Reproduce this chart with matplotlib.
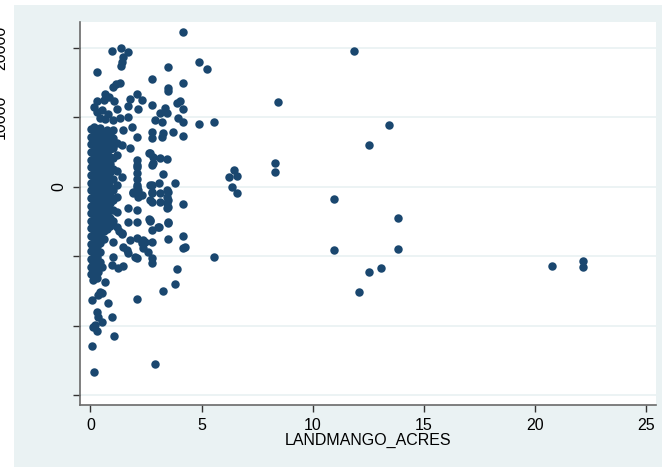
import matplotlib
matplotlib.use("Agg")
import matplotlib.pyplot as plt
from matplotlib.patches import Rectangle

plt.rcParams['font.family'] = ['Liberation Sans', 'DejaVu Sans']

# scattered observations (acres, value)
land_acres = [
    4.18, 0.98, 1.39, 1.70, 1.45, 1.41, 1.36, 0.28, 4.88, 5.26, 3.47, 2.78, 4.18, 3.47, 3.47,
    1.15, 1.33, 1.02, 0.66, 0.28, 0.61, 1.07, 1.78, 2.08, 2.31, 1.70, 2.15, 2.76, 3.88, 4.03,
    4.18, 3.35, 3.13, 3.46, 2.90, 3.21, 3.95, 4.18, 4.88, 5.57, 8.42, 0.28, 0.43, 1.03, 1.33,
    1.70, 1.88, 1.48, 1.03, 2.08, 2.76, 2.76, 3.21, 3.28, 3.70, 4.18, 2.65, 2.83, 3.13, 3.46,
    2.76, 2.08, 2.08, 1.78, 1.41, 2.08, 2.08, 3.28, 3.08, 3.80, 2.76, 2.08, 4.18, 6.46, 6.25,
    6.58, 6.35, 6.58, 8.30, 8.30, 1.41, 1.93, 2.15, 2.76, 2.76, 3.13, 3.46, 3.46, 3.46, 3.46,
    2.65, 2.08, 1.70, 2.08, 1.70, 2.68, 3.08, 2.76, 3.47, 4.18, 3.47, 4.18, 4.25, 1.41, 1.03,
    1.78, 2.08, 2.31, 2.46, 2.76, 1.48, 1.63, 1.70, 2.08, 2.38, 2.60, 2.76, 2.76, 1.03, 0.96,
    1.25, 1.48, 5.57, 3.88, 3.80, 3.28, 2.08, 0.66, 0.13, 0.28, 0.43, 0.36, 0.51, 0.06, 0.80,
    0.28, 0.36, 0.51, 0.21, 0.13, 0.98, 0.28, 1.07, 0.09, 2.89, 0.18, 0.13, 0.43, 0.21, 0.36,
    0.13, 0.51, 0.28, 0.43, 10.95, 13.84, 10.95, 13.84, 12.54, 13.05, 12.06, 11.85, 13.44, 12.54,
    20.74, 22.14, 22.14, 2.68, 2.80, 2.08, 2.68, 2.08, 2.15, 1.93, 2.31, 2.76, 3.13, 2.68,
    3.50, 3.50, 3.50, 2.68, 3.05, 3.50, 1.28, 1.41, 2.31, 2.38, 2.01, 0.15, 0.50, 0.80, 1.20,
    0.66, 0.85,
]
value_diff = [
    22260, 19570, 19915, 19380, 18620, 17990, 17325, 16505, 17990, 16890, 17180, 15500, 14965, 14160, 13770,
    14780, 14880, 14350, 13340, 12380, 12480, 12290, 12665, 13340, 12480, 11610, 11140, 11760, 12000, 12380,
    11140, 11280, 10560, 10650, 9600, 9355, 9840, 9355, 8980, 9355, 12230, 10790, 9885, 9600, 9840,
    10070, 8630, 8160, 8160, 7110, 7915, 6960, 7195, 7685, 7915, 7295, 4890, 4315, 4085, 3940,
    3120, 3840, 3120, 5525, 6000, 1930, 1065, 1830, 575, 490, 245, 0, -2490, 2400, 1440,
    1540, -90, -950, 3450, 2070, 1440, -950, -1440, -950, -2160, -2160, -475, -1440, -2300, -3110,
    -4690, -3350, -3110, -5035, -5035, -4890, -5755, -6230, -5180, -7095, -7525, -8865, -8635, -6805, -7915,
    -7670, -7425, -7815, -7915, -7915, -8635, -9110, -9585, -10305, -8865, -9355, -10305, -10935, -10075, -11270,
    -11740, -11410, -10160, -11890, -14000, -14965, -16160, -13760, -13425, -13180, -15110, -15585, -15340, -16305, -16690,
    -17990, -18705, -19425, -19900, -20145, -18795, -20720, -21440, -22925, -25510, -26620, -11020, -10790, -11740, -12230,
    -12460, -11510, -10075, -9355, -1770, -4550, -9110, -8965, -12230, -11740, -15110, 19570, 8880, 6000,
    -11370, -10650, -11510, 4800, 3370, 245, 245, 2880, -475, -720, -1195, -720, -950, -1910,
    -720, -1910, -2880, -4790, -5755, -5120, -6300, -6705, -8145, -7670, -10160, 11500, 11000, 10500, 11200,
    9700, 12900,
]

# the crowded block of small plots (under about 1.2 acres)
small_acres = (
    [0.04] * 20 + [0.17] * 18 + [0.31] * 17 + [0.45] * 16 + [0.59] * 15
    + [0.73] * 14 + [0.88] * 13 + [1.03] * 9 + [1.18] * 7
)
small_value = [
    8300, 7200, 6100, 5000, 3900, 2800, 1700, 600, -500, -1600, -2700, -3800, -4900, -6000, -7100, -8200, -9300, -10400, -11500, -12600,
    8600, 7500, 6400, 5300, 4200, 3100, 2000, 900, -200, -1300, -2400, -3500, -4600, -5700, -6800, -7900, -9000, -10100,
    8000, 6900, 5800, 4700, 3600, 2500, 1400, 300, -800, -1900, -3000, -4100, -5200, -6300, -7400, -8500, -9600,
    8400, 7300, 6200, 5100, 4000, 2900, 1800, 700, -400, -1500, -2600, -3700, -4800, -5900, -7000, -8100,
    7900, 6800, 5700, 4600, 3500, 2400, 1300, 200, -900, -2000, -3100, -4200, -5300, -6400, -7500,
    8200, 7100, 6000, 4900, 3800, 2700, 1600, 500, -600, -1700, -2800, -3900, -5000, -6100,
    7600, 6500, 5400, 4300, 3200, 2100, 1000, -100, -1200, -2300, -3400, -4500, -5600,
    7000, 5600, 4100, 2600, 1100, -400, -1900, -3400, -4900,
    6300, 4500, 2200, 300, -1500, -3600, -5800,
]

x_ticks = [0, 5, 10, 15, 20, 25]
y_ticks = [-30000, -20000, -10000, 0, 10000, 20000]
y_tick_labels = ['', '', '', '0', '10000', '20000']

navy = '#1a476f'
panel = '#eaf2f3'

fig = plt.figure(figsize=(6.62, 4.67), dpi=100, facecolor='white')
fig.patches.append(Rectangle((14 / 662, 0), 1, 462 / 467, transform=fig.transFigure,
                             facecolor=panel, edgecolor='none', zorder=-10))
ax = fig.add_axes([80 / 662, 62 / 467, 576 / 662, 383 / 467])
ax.set_facecolor('white')

ax.scatter(small_acres, small_value, s=37, color=navy, linewidths=0, zorder=3)
ax.scatter(land_acres, value_diff, s=37, color=navy, linewidths=0, zorder=3)

ax.set_xlim(-0.47, 25.43)
ax.set_ylim(-31400, 23700)
ax.set_xticks(x_ticks)
ax.set_yticks(y_ticks)
ax.set_yticklabels(y_tick_labels, rotation=90, va='center')
ax.yaxis.grid(True, color=panel, linewidth=1.3)
ax.set_axisbelow(True)

for side in ('top', 'right'):
    ax.spines[side].set_visible(False)
for side in ('left', 'bottom'):
    ax.spines[side].set_color('#6a6a6a')
    ax.spines[side].set_linewidth(1.2)

ax.tick_params(axis='both', direction='out', length=5, width=1, color='#333333',
               labelsize=11.5, labelcolor='black')
ax.tick_params(axis='x', pad=4)
ax.tick_params(axis='y', pad=5)
# long labels sit far out at the left edge
for t in ax.yaxis.get_major_ticks()[4:]:
    t.set_pad(47)

ax.set_xlabel('LANDMANGO_ACRES', fontsize=11.5, labelpad=0)

fig.savefig('out.png', dpi=100, facecolor='white')
